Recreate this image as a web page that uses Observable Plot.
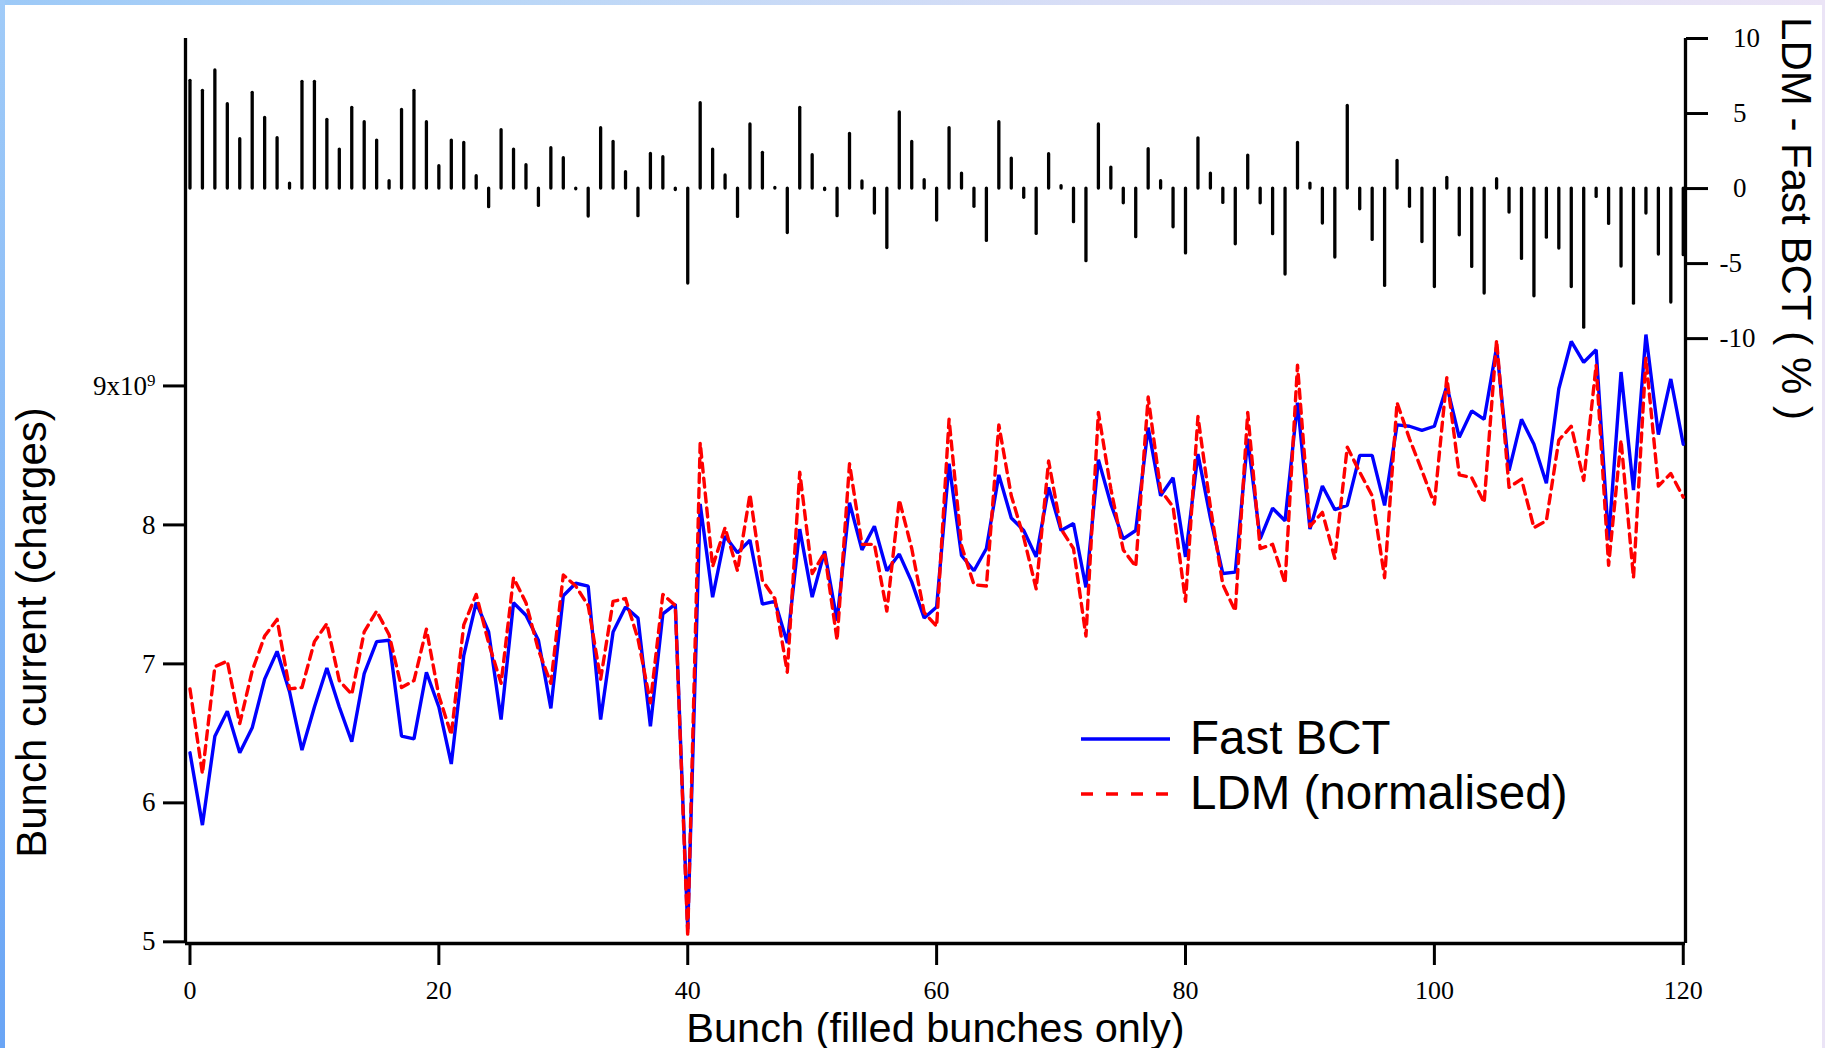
<!DOCTYPE html>
<html>
<head>
<meta charset="utf-8">
<script src="https://cdn.jsdelivr.net/npm/d3@7"></script>
<script src="https://cdn.jsdelivr.net/npm/@observablehq/plot@0.6"></script>
<style>
  html, body { margin: 0; padding: 0; }
  body { width: 1825px; height: 1048px; overflow: hidden; position: relative;
         background: linear-gradient(to right, #9cc9f7 0%, #b7d6f7 25%, #d9def6 60%, #ebe4f6 100%); }
  #leftstrip { position: absolute; left: 0; top: 0; width: 5px; height: 1048px;
         background: linear-gradient(to bottom, #a0cbf8, #6aa5f5); }
  #panel { position: absolute; left: 5px; top: 5px; width: 1817px; height: 1043px; background: #ffffff; }
  .layer { position: absolute; left: 0; top: 0; }
</style>
</head>
<body>
<div id="leftstrip"></div>
<div id="panel"></div>
<div id="chart"></div>
<script>
// Fast BCT bunch current (units of 1e9 charges), bunches 0..120
const fastBCT = [
  6.36, 5.84, 6.48, 6.66, 6.36, 6.54, 6.89, 7.09, 6.80, 6.38,
  6.69, 6.97, 6.69, 6.44, 6.93, 7.16, 7.17, 6.48, 6.46, 6.94,
  6.69, 6.28, 7.06, 7.44, 7.23, 6.60, 7.44, 7.35, 7.17, 6.68,
  7.49, 7.58, 7.56, 6.60, 7.23, 7.41, 7.33, 6.55, 7.36, 7.43,
  5.09, 8.15, 7.48, 7.92, 7.80, 7.89, 7.43, 7.45, 7.15, 7.97,
  7.48, 7.81, 7.31, 8.16, 7.82, 7.99, 7.67, 7.79, 7.59, 7.33,
  7.41, 8.44, 7.78, 7.67, 7.83, 8.36, 8.05, 7.96, 7.77, 8.27,
  7.96, 8.01, 7.55, 8.47, 8.15, 7.90, 7.96, 8.70, 8.21, 8.34,
  7.77, 8.51, 8.05, 7.65, 7.66, 8.62, 7.90, 8.12, 8.03, 8.88,
  7.97, 8.28, 8.11, 8.14, 8.50, 8.50, 8.14, 8.72, 8.71, 8.68,
  8.71, 9.00, 8.63, 8.82, 8.76, 9.28, 8.39, 8.76, 8.58, 8.30,
  8.98, 9.32, 9.17, 9.26, 7.89, 9.10, 8.25, 9.37, 8.65, 9.05,
  8.58
];
// LDM (normalised), bunches 0..120
const ldm = [
  6.82, 6.21, 6.98, 7.02, 6.57, 6.95, 7.20, 7.32, 6.82, 6.83,
  7.16, 7.29, 6.88, 6.78, 7.23, 7.38, 7.21, 6.83, 6.88, 7.25,
  6.77, 6.49, 7.28, 7.50, 7.15, 6.86, 7.62, 7.44, 7.10, 6.86,
  7.64, 7.56, 7.42, 6.89, 7.45, 7.47, 7.18, 6.72, 7.50, 7.42,
  5.04, 8.59, 7.70, 7.98, 7.67, 8.22, 7.60, 7.47, 6.94, 8.38,
  7.65, 7.80, 7.17, 8.44, 7.86, 7.86, 7.38, 8.18, 7.83, 7.37,
  7.27, 8.76, 7.85, 7.57, 7.56, 8.72, 8.21, 7.91, 7.54, 8.46,
  7.97, 7.83, 7.20, 8.81, 8.26, 7.82, 7.70, 8.92, 8.25, 8.13,
  7.45, 8.78, 8.13, 7.57, 7.38, 8.81, 7.83, 7.86, 7.58, 9.15,
  7.99, 8.09, 7.76, 8.56, 8.38, 8.21, 7.62, 8.88, 8.62, 8.39,
  8.15, 9.06, 8.36, 8.34, 8.16, 9.33, 8.27, 8.33, 7.98, 8.03,
  8.61, 8.71, 8.32, 9.15, 7.71, 8.61, 7.62, 9.20, 8.28, 8.37,
  8.20
];
// LDM - Fast BCT (%), bunches 0..120
const diffPct = [
  7.18, 6.51, 7.87, 5.62, 3.29, 6.38, 4.71, 3.36, 0.33, 7.11,
  7.11, 4.58, 2.60, 5.38, 4.42, 3.20, 0.49, 5.24, 6.51, 4.42,
  1.49, 3.20, 3.04, 0.82, -1.24, 3.89, 2.60, 1.56, -1.16, 2.69,
  2.02, -0.05, -1.87, 4.02, 3.11, 1.09, -1.84, 2.31, 2.09, -0.10,
  -6.33, 5.69, 2.60, 0.87, -1.89, 4.27, 2.38, 0.05, -2.96, 5.38,
  2.22, -0.10, -1.84, 3.64, 0.47, -1.67, -3.96, 5.07, 3.11, 0.56,
  -2.13, 4.02, 1.00, -1.22, -3.49, 4.42, 2.00, -0.62, -3.02, 2.29,
  0.16, -2.24, -4.84, 4.27, 1.40, -0.98, -3.24, 2.62, 0.49, -2.58,
  -4.32, 3.35, 1.00, -0.96, -3.71, 2.20, -0.98, -3.04, -5.73, 3.04,
  0.33, -2.33, -4.60, 5.51, -1.38, -3.42, -6.49, 1.84, -1.22, -3.56,
  -6.56, 0.71, -3.11, -5.22, -7.00, 0.62, -1.60, -4.69, -7.18, -3.27,
  -4.00, -6.56, -9.27, -0.56, -2.36, -5.20, -7.67, -1.67, -4.40, -7.60,
  -4.44
];
const xTicks = [0, 20, 40, 60, 80, 100, 120];
const leftTicks = [5, 6, 7, 8, 9];
const rightTicks = [-10, -5, 0, 5, 10];
const seriesNames = ["Fast BCT", "LDM (normalised)"];
const titles = {
  x: "Bunch (filled bunches only)",
  yLeft: "Bunch current (charges)",
  yRight: "LDM - Fast BCT ( % )"
};

const rows = fastBCT.map((v, i) => ({bunch: i, bct: v, ldm: ldm[i], diff: diffPct[i]}));

const W = 1825, H = 1048;
const M = {top: 38, bottom: 105, left: 185, right: 140};
const xDomain = [-0.36, 120.18];
const yDomain = [4.988, 11.5];
const dDomain = [-50.31, 10];
const serif = "'Liberation Serif', 'Times New Roman', serif";
const sans = "'Liberation Sans', Arial, sans-serif";
const tickFont = 26;

const p1 = Plot.plot({
  width: W, height: H,
  marginTop: M.top, marginBottom: M.bottom, marginLeft: M.left, marginRight: M.right,
  style: {background: "transparent", fontFamily: serif, overflow: "visible"},
  x: {domain: xDomain},
  y: {domain: yDomain},
  marks: [
    Plot.axisY({anchor: "left", ticks: leftTicks, tickSize: 22, tickPadding: 8, strokeWidth: 3,
      tickFormat: d => d === 9 ? "9x10\u2079" : String(d), fontSize: tickFont + 1, fontFamily: serif, label: null}),
    Plot.axisX({anchor: "bottom", ticks: xTicks, tickSize: 22, tickPadding: 15, strokeWidth: 3,
      tickFormat: d => String(d), fontSize: tickFont, fontFamily: serif, label: null}),
    Plot.ruleX([xDomain[0]], {y1: yDomain[0], y2: yDomain[1], strokeWidth: 3.3, stroke: "black"}),
    Plot.ruleX([xDomain[1]], {y1: yDomain[0], y2: yDomain[1], strokeWidth: 3.3, stroke: "black"}),
    Plot.ruleY([yDomain[0]], {x1: xDomain[0], x2: xDomain[1], strokeWidth: 3.3, stroke: "black"}),
    Plot.line(rows, {x: "bunch", y: "bct", stroke: "#0000ff", strokeWidth: 3.4, strokeLinejoin: "miter"}),
    Plot.line(rows, {x: "bunch", y: "ldm", stroke: "#ff0000", strokeWidth: 3.4, strokeDasharray: "9,6"}),
    Plot.text([titles.yLeft], {frameAnchor: "left", dx: -153, dy: 141.5, rotate: -90,
      fontSize: 42, fontFamily: sans, fill: "black", textAnchor: "middle", lineAnchor: "middle"}),
    Plot.text([titles.yRight], {frameAnchor: "right", dx: 110, dy: -272.5, rotate: 90,
      fontSize: 42, fontFamily: sans, fill: "black", textAnchor: "middle", lineAnchor: "middle"}),
    Plot.text([titles.x], {frameAnchor: "bottom", dy: 85,
      fontSize: 41.5, fontFamily: sans, fill: "black", textAnchor: "middle", lineAnchor: "middle"})
  ]
});

const p2 = Plot.plot({
  width: W, height: H,
  marginTop: M.top, marginBottom: M.bottom, marginLeft: M.left, marginRight: M.right,
  style: {background: "transparent", fontFamily: serif, overflow: "visible"},
  x: {domain: xDomain, axis: null},
  y: {domain: dDomain},
  marks: [
    Plot.axisY({anchor: "right", ticks: rightTicks, tickSize: 22, tickPadding: 12, strokeWidth: 3,
      tickFormat: d => d < 0 ? "-" + Math.abs(d) : "\u2007" + d, fontSize: tickFont + 1, fontFamily: serif,
      textAnchor: "start", label: null}),
    Plot.ruleX(rows, {x: "bunch", y1: 0, y2: "diff", stroke: "black", strokeWidth: 3.3, strokeLinecap: "round"})
  ]
});

// superscript exponent on the 9x10^9 tick label
const svgns = "http://www.w3.org/2000/svg";
p1.querySelectorAll("text").forEach(t => {
  if (t.textContent === "9x10\u2079") {
    t.textContent = "9x10";
    const ts = document.createElementNS(svgns, "tspan");
    ts.setAttribute("dy", "-0.5em");
    ts.setAttribute("font-size", "17");
    ts.textContent = "9";
    t.appendChild(ts);
  }
});

p1.classList.add("layer");
p2.classList.add("layer");
const chart = document.getElementById("chart");
chart.appendChild(p2);
chart.appendChild(p1);

// legend
const lg = d3.create("svg").attr("class", "layer").attr("width", W).attr("height", H)
  .style("overflow", "visible");
const lgItems = [
  {name: seriesNames[0], color: "#0000ff", dash: null, y: 739},
  {name: seriesNames[1], color: "#ff0000", dash: "12,13", y: 794}
];
lgItems.forEach(it => {
  lg.append("line").attr("x1", 1081).attr("x2", 1170).attr("y1", it.y).attr("y2", it.y)
    .attr("stroke", it.color).attr("stroke-width", 3.3).attr("stroke-dasharray", it.dash);
  lg.append("text").attr("x", 1190).attr("y", it.y + 15).attr("font-size", 47.5)
    .attr("font-family", sans).attr("fill", "black").text(it.name);
});
chart.appendChild(lg.node());
</script>
</body>
</html>
